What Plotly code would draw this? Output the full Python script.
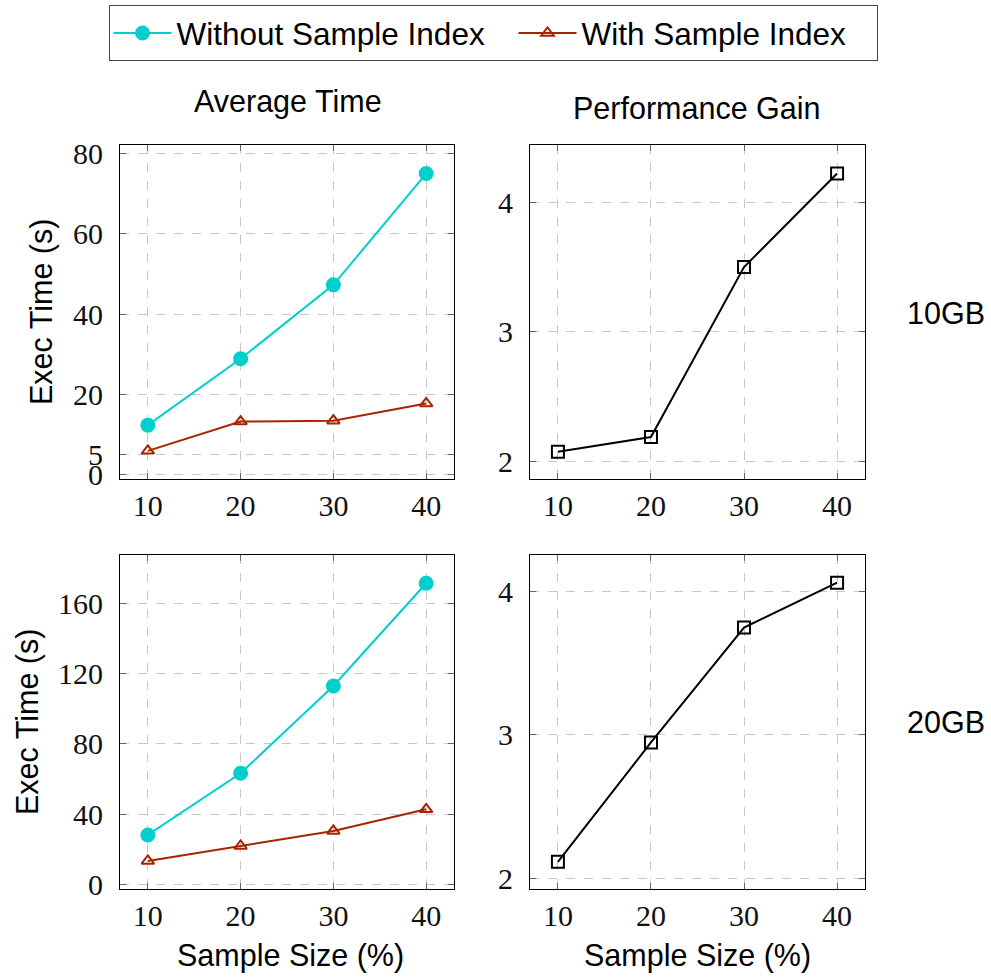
import plotly.graph_objects as go

# ---- data ----
sample_size = [10, 20, 30, 40]

time10_without = [12.4, 28.9, 47.3, 75.0]
time10_with = [6.0, 13.3, 13.5, 17.8]
gain10 = [2.077, 2.19, 3.50, 4.22]

time20_without = [28.1, 63.2, 112.9, 171.4]
time20_with = [13.3, 21.8, 30.4, 42.7]
gain20 = [2.115, 2.948, 3.75, 4.063]

x_ticks = [10, 20, 30, 40]
y_ticks_tl = [0, 5, 20, 40, 60, 80]
y_ticks_tr = [2, 3, 4]
y_ticks_bl = [0, 40, 80, 120, 160]
y_ticks_br = [2, 3, 4]

col_title = ["Average Time", "Performance Gain"]
row_title = ["10GB", "20GB"]
series_names = ["Without Sample Index", "With Sample Index"]

# ---- style ----
W, H = 991, 978
CYAN = "#00CFCB"
RED = "#A82400"
SANS = "Liberation Sans, Arial, sans-serif"
SERIF = "Liberation Serif, Times New Roman, serif"

def px_x(p):
    return p / W

def px_y(p):
    return 1 - p / H

colx = [(120, 454), (530, 865)]
rowy = [(145, 479), (555, 889.3)]

fig = go.Figure()

def add_line(x, y, xa, ya, name, color, symbol, size, showlegend, lw=None):
    fig.add_trace(go.Scatter(
        x=x, y=y, xaxis=xa, yaxis=ya, name=name, mode="lines+markers",
        line=dict(color=color, width=2),
        marker=dict(symbol=symbol, size=size, color=color,
                    line=dict(color=color, width=2)),
        showlegend=showlegend, legendgroup=name, legendwidth=lw,
    ))

add_line(sample_size, time10_without, "x", "y", series_names[0], CYAN, "circle", 13, True, 332)
add_line(sample_size, time10_with, "x", "y", series_names[1], RED, "triangle-up-open", 11, True, 290)
add_line(sample_size, gain10, "x2", "y2", "Gain 10GB", "black", "square-open", 12, False)
add_line(sample_size, time20_without, "x3", "y3", series_names[0], CYAN, "circle", 13, False)
add_line(sample_size, time20_with, "x3", "y3", series_names[1], RED, "triangle-up-open", 11, False)
add_line(sample_size, gain20, "x4", "y4", "Gain 20GB", "black", "square-open", 12, False)

common = dict(
    showline=True, linecolor="black", linewidth=1, mirror="ticks",
    ticks="inside", ticklen=6, tickcolor="#666666", tickwidth=1,
    showgrid=True, gridcolor="#c8c8c8", griddash="dash", gridwidth=1,
    zeroline=False, tickfont=dict(family=SERIF, size=30, color="#111111"),
)

axes = [
    ("x", "y", 0, 0, [-1.0, 82.1], y_ticks_tl),
    ("x2", "y2", 1, 0, [1.867, 4.44], y_ticks_tr),
    ("x3", "y3", 0, 1, [-2.85, 187.5], y_ticks_bl),
    ("x4", "y4", 1, 1, [1.923, 4.256], y_ticks_br),
]
layout = {}
for xa, ya, c, r, yr, yt in axes:
    xname = "xaxis" + xa[1:]
    yname = "yaxis" + ya[1:]
    layout[xname] = dict(common, domain=[px_x(colx[c][0]), px_x(colx[c][1])],
                         anchor=ya, range=[7, 43], tickvals=x_ticks,
                         ticklabelstandoff=0)
    layout[yname] = dict(common, domain=[px_y(rowy[r][1]), px_y(rowy[r][0])],
                         anchor=xa, range=yr, tickvals=yt,
                         ticklabelstandoff=10)

fig.update_layout(**layout)

annotations = []
def ann(text, x, y, angle=0):
    annotations.append(dict(text=text, x=px_x(x), y=px_y(y), xref="paper", yref="paper",
                            xanchor="center", yanchor="middle", showarrow=False,
                            textangle=angle, font=dict(family=SANS, size=30.5, color="black")))

ann(col_title[0], 288, 101)
ann(col_title[1], 697, 108)
ann(row_title[0], 946, 313)
ann(row_title[1], 946, 722)
ann("Exec Time (s)", 42, 312, -90)
ann("Exec Time (s)", 27, 722, -90)
ann("Sample Size (%)", 290, 955)
ann("Sample Size (%)", 697, 955)

fig.update_layout(
    width=W, height=H, margin=dict(l=0, r=0, t=0, b=0, autoexpand=False),
    paper_bgcolor="white", plot_bgcolor="white",
    annotations=annotations,
    legend=dict(orientation="h", x=px_x(493), xanchor="center", y=px_y(5), yanchor="top",
                bordercolor="#444444", borderwidth=1, bgcolor="white", itemwidth=58,
                font=dict(family=SANS, size=31.5, color="black")),
)

fig.write_html("out.html", config={"displayModeBar": False},
               post_script="document.body.style.margin='0';document.body.style.overflow='hidden';")
